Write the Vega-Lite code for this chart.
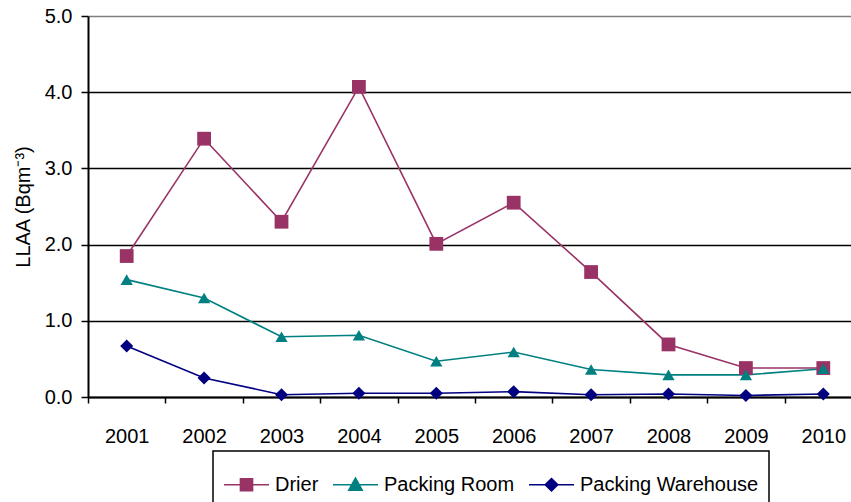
{
  "$schema": "https://vega.github.io/schema/vega-lite/v6.json",
  "width": 763,
  "height": 381,
  "autosize": {"type": "none"},
  "padding": {"left": 88, "top": 16, "right": 0, "bottom": 105},
  "background": "white",
  "config": {
    "view": {"stroke": null},
    "font": "Liberation Sans",
    "axis": {"labelFont": "Liberation Sans", "titleFont": "Liberation Sans", "labelColor": "black", "titleColor": "black", "domainColor": "black", "tickColor": "black"}
  },
  "data": {
    "values": [
      {"year": "2001", "series": "Drier", "value": 1.85},
      {"year": "2002", "series": "Drier", "value": 3.39},
      {"year": "2003", "series": "Drier", "value": 2.3},
      {"year": "2004", "series": "Drier", "value": 4.07},
      {"year": "2005", "series": "Drier", "value": 2.01},
      {"year": "2006", "series": "Drier", "value": 2.55},
      {"year": "2007", "series": "Drier", "value": 1.64},
      {"year": "2008", "series": "Drier", "value": 0.69},
      {"year": "2009", "series": "Drier", "value": 0.38},
      {"year": "2010", "series": "Drier", "value": 0.38},
      {"year": "2001", "series": "Packing Room", "value": 1.54},
      {"year": "2002", "series": "Packing Room", "value": 1.3},
      {"year": "2003", "series": "Packing Room", "value": 0.79},
      {"year": "2004", "series": "Packing Room", "value": 0.81},
      {"year": "2005", "series": "Packing Room", "value": 0.47},
      {"year": "2006", "series": "Packing Room", "value": 0.59},
      {"year": "2007", "series": "Packing Room", "value": 0.36},
      {"year": "2008", "series": "Packing Room", "value": 0.29},
      {"year": "2009", "series": "Packing Room", "value": 0.29},
      {"year": "2010", "series": "Packing Room", "value": 0.37},
      {"year": "2001", "series": "Packing Warehouse", "value": 0.67},
      {"year": "2002", "series": "Packing Warehouse", "value": 0.25},
      {"year": "2003", "series": "Packing Warehouse", "value": 0.03},
      {"year": "2004", "series": "Packing Warehouse", "value": 0.05},
      {"year": "2005", "series": "Packing Warehouse", "value": 0.05},
      {"year": "2006", "series": "Packing Warehouse", "value": 0.07},
      {"year": "2007", "series": "Packing Warehouse", "value": 0.03},
      {"year": "2008", "series": "Packing Warehouse", "value": 0.04},
      {"year": "2009", "series": "Packing Warehouse", "value": 0.02},
      {"year": "2010", "series": "Packing Warehouse", "value": 0.04}
    ]
  },
  "encoding": {
    "x": {
      "field": "year",
      "type": "ordinal",
      "bandPosition": 0.5,
      "scale": {"type": "band", "paddingInner": 0, "paddingOuter": 0, "range": [0, 774]},
      "axis": {
        "title": null,
        "labelAngle": 0,
        "labelFontSize": 20,
        "labelPadding": 23,
        "tickBand": "extent",
        "tickSize": 6,
        "tickWidth": 1.5,
        "domainWidth": 2,
        "grid": false
      }
    },
    "y": {
      "field": "value",
      "type": "quantitative",
      "scale": {"domain": [0, 5], "nice": false, "zero": true},
      "axis": {
        "title": "LLAA (Bqm⁻³)",
        "titleFontSize": 20,
        "titleFontWeight": "normal",
        "titlePadding": 11,
        "values": [0, 1, 2, 3, 4, 5],
        "format": ".1f",
        "labelFontSize": 20,
        "labelPadding": 9,
        "tickSize": 7,
        "tickWidth": 1.5,
        "domainWidth": 2,
        "grid": true,
        "gridColor": {"condition": {"test": "datum.value == 5", "value": "#808080"}, "value": "black"},
        "gridWidth": 1.5
      }
    },
    "color": {
      "field": "series",
      "type": "nominal",
      "scale": {"domain": ["Drier", "Packing Room", "Packing Warehouse"], "range": ["#993366", "#008080", "#000080"]},
      "legend": {
        "orient": "none",
        "legendX": 125,
        "legendY": 435,
        "direction": "horizontal",
        "title": null,
        "labelFontSize": 20,
        "labelFont": "Liberation Sans",
        "labelColor": "black",
        "labelLimit": 0,
        "labelOffset": 5,
        "columnPadding": 11,
        "padding": 10,
        "strokeColor": "black",
        "symbolSize": 2025,
        "symbolStrokeWidth": 1.5,
        "encode": {
          "legend": {"update": {"strokeWidth": {"value": 1.5}}},
          "symbols": {
            "update": {
              "shape": {"signal": "datum.value == 'Drier' ? 'M-1,0L1,0M-0.27,-0.27L0.27,-0.27L0.27,0.27L-0.27,0.27Z' : datum.value == 'Packing Room' ? 'M-1,0L1,0M-0.3,0.24L0,-0.3L0.3,0.24Z' : 'M-1,0L1,0M-0.28,0L0,-0.28L0.28,0L0,0.28Z'"},
              "size": {"value": 2025},
              "fill": {"signal": "scale('color', datum.value)"},
              "stroke": {"signal": "scale('color', datum.value)"},
              "strokeWidth": {"value": 1.5},
              "opacity": {"value": 1},
              "fillOpacity": {"value": 1},
              "strokeOpacity": {"value": 1}
            }
          }
        }
      }
    }
  },
  "layer": [
    {
      "mark": {"type": "line", "strokeWidth": 1.6},
      "encoding": {"detail": {"field": "series"}}
    },
    {
      "transform": [{"filter": "datum.series == 'Drier'"}],
      "mark": {"type": "point", "filled": true, "opacity": 1, "shape": "square", "size": 190}
    },
    {
      "transform": [{"filter": "datum.series == 'Packing Room'"}],
      "mark": {"type": "point", "filled": true, "opacity": 1, "shape": "triangle-up", "size": 150}
    },
    {
      "transform": [{"filter": "datum.series == 'Packing Warehouse'"}],
      "mark": {"type": "point", "filled": true, "opacity": 1, "shape": "diamond", "size": 170}
    }
  ]
}
